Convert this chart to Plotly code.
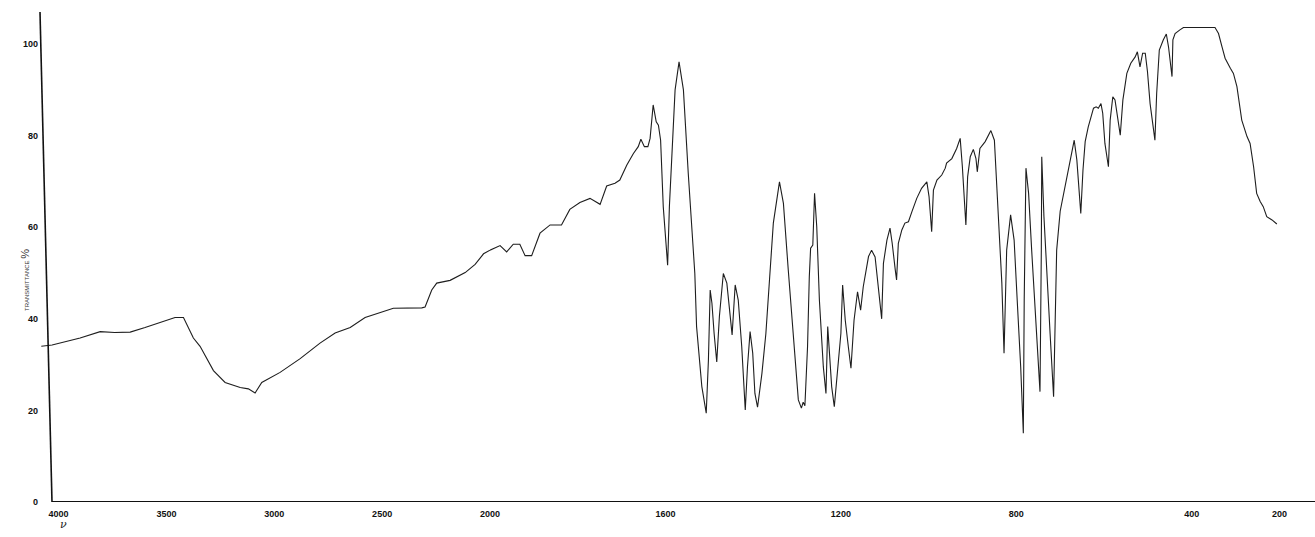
import plotly.graph_objects as go

# Wavenumber (cm-1) and transmittance (%)
wavenumber = [
    4080, 4030, 3900, 3807, 3740, 3668, 3599, 3529, 3460, 3421, 3375, 3344, 3282, 3228,
    3158, 3120, 3089, 3058, 2973, 2880, 2788, 2718, 2648, 2579, 2509, 2448, 2316, 2301,
    2270, 2247, 2185, 2115, 2069, 2030, 2000,
    1977, 1962, 1947, 1932, 1920, 1905, 1886, 1863, 1837, 1818, 1795, 1772, 1749, 1734,
    1715, 1704, 1688, 1673, 1662, 1656, 1648, 1640, 1635, 1628, 1621, 1616, 1611, 1605,
    1597, 1595, 1591, 1586, 1578, 1569, 1559, 1548, 1533, 1529, 1517, 1507, 1502, 1498,
    1494, 1489, 1483, 1477, 1468, 1460, 1453, 1448, 1441, 1434, 1426, 1418, 1413, 1407,
    1401, 1396, 1390, 1380, 1371, 1362, 1354, 1340, 1331, 1320, 1308, 1297, 1290, 1286,
    1282, 1276, 1272, 1269, 1264, 1260, 1255, 1249, 1240, 1234, 1230, 1225, 1221, 1215,
    1206, 1200, 1196, 1190, 1183, 1177, 1170, 1162, 1155, 1149, 1137, 1130, 1122, 1115,
    1107, 1103, 1095, 1088, 1083, 1076, 1073, 1069, 1061, 1054, 1046, 1038, 1027, 1016,
    1004, 999, 993, 989, 981, 970, 962, 959, 947, 936, 928, 923, 918, 915, 911, 905, 898,
    892, 889, 883, 871, 858, 850, 845, 839, 833, 828, 822, 813, 805, 798, 790, 784, 782,
    778, 772, 765, 757, 750, 746, 743, 742, 737, 730, 723, 715, 712, 708, 700, 689, 677,
    668, 662, 657, 653, 648, 643, 636, 624, 618, 613, 607, 603, 598, 590, 586, 580, 575,
    569, 563, 557, 548, 539, 529, 524, 518, 512, 506, 501, 495, 487, 484, 480, 474, 465,
    458, 453, 448, 445, 443, 438, 427, 419, 347, 339, 331, 324, 312, 305, 297, 286, 274,
    267, 259, 252, 244, 237, 229, 217, 206,
]
transmittance = [
    34.0, 34.3, 35.8, 37.2, 37.0, 37.1, 38.1, 39.2, 40.3, 40.3, 35.8, 34.0, 28.7, 26.1,
    25.0, 24.7, 23.8, 26.1, 28.3, 31.3, 34.7, 36.9, 38.1, 40.3, 41.4, 42.3, 42.4, 42.6,
    46.3, 47.8, 48.4, 50.1, 51.9, 54.2, 55.0,
    56.0, 54.6, 56.3, 56.3, 53.8, 53.8, 58.7, 60.5, 60.5, 63.9, 65.4, 66.3, 65.0, 69.0,
    69.6, 70.3, 73.6, 76.1, 77.6, 79.2, 77.6, 77.6, 79.4, 86.7, 83.0, 82.3, 79.0, 64.5,
    55.0, 51.7, 64.5, 75.4, 90.0, 96.1, 90.0, 71.8, 49.9, 38.3, 25.2, 19.4, 31.0, 46.3,
    43.4, 36.8, 30.6, 40.5, 49.9, 47.8, 41.9, 36.5, 47.4, 44.1, 33.9, 20.1, 29.5, 37.2,
    32.5, 23.7, 20.7, 28.1, 36.8, 50.7, 60.9, 69.9, 65.2, 50.7, 36.8, 22.3, 20.5, 21.8,
    21.0, 33.9, 49.2, 55.4, 56.1, 67.4, 60.1, 44.1, 29.5, 23.7, 38.3, 31.0, 25.2, 20.8,
    29.5, 36.8, 47.4, 39.7, 33.9, 29.2, 39.7, 45.9, 41.9, 47.0, 53.6, 55.0, 53.5, 47.0,
    40.0, 52.1, 57.2, 59.8, 56.5, 50.7, 48.5, 56.5, 59.4, 60.9, 61.2, 63.4, 66.3, 68.5,
    69.9, 66.7, 59.0, 68.1, 70.3, 71.4, 72.9, 74.0, 75.0, 77.2, 79.4, 73.2, 65.9, 60.5, 71.0, 75.4, 77.0,
    75.0, 72.1, 77.2, 78.7, 81.1, 79.0, 69.6, 58.7, 47.8, 32.5, 55.0, 62.7, 57.2, 44.1, 29.5, 15.0, 44.1,
    72.9, 67.4, 55.0, 41.2, 29.5, 24.1, 55.0, 75.4, 62.3, 47.8, 36.8, 23.0, 36.8, 55.0, 63.5, 68.8, 74.0,
    79.0, 74.7, 66.7, 63.0, 72.5, 78.7, 81.9, 86.0, 86.3, 86.0, 87.0, 84.9, 78.3, 73.2, 83.4, 88.5, 87.8,
    84.1, 80.1, 87.8, 93.6, 95.8, 97.2, 98.3, 95.0, 98.0, 98.0, 94.0, 87.0, 81.2, 79.0, 89.2, 98.7, 100.9,
    102.2, 99.4, 95.8, 92.9, 100.9, 102.3, 103.1, 103.6, 103.6, 102.3, 99.4, 96.9, 94.7, 93.6, 90.7, 83.4, 79.8,
    78.3, 73.2, 67.4, 65.6, 64.5, 62.3, 61.6, 60.7,
]

high_ticks = [4000, 3500, 3000, 2500]
low_ticks = [2000, 1600, 1200, 800, 400, 200]
y_ticks = [0, 20, 40, 60, 80, 100]

BREAK = 2000
hi_x = [w for w in wavenumber if w >= BREAK]
hi_y = [t for w, t in zip(wavenumber, transmittance) if w >= BREAK]
lo_x = [w for w in wavenumber if w <= BREAK]
lo_y = [t for w, t in zip(wavenumber, transmittance) if w <= BREAK]

W, H = 1315, 537
ML, MR, MT, MB = 40, 0, 12, 35
plot_w = W - ML - MR
split = 450 / plot_w

line_style = dict(color="#1e1e1e", width=1.1)
fig = go.Figure()
fig.add_trace(go.Scatter(x=hi_x, y=hi_y, mode="lines", line=line_style,
                         xaxis="x", yaxis="y", showlegend=False, hoverinfo="skip"))
fig.add_trace(go.Scatter(x=lo_x, y=lo_y, mode="lines", line=line_style,
                         xaxis="x2", yaxis="y", showlegend=False, hoverinfo="skip"))

tick_font = dict(family="Liberation Sans, Arial, sans-serif", size=9, color="#111",
                 weight="bold")
common_x = dict(showgrid=False, zeroline=False, showline=False, ticks="",
                tickfont=tick_font, ticklabelstandoff=5, fixedrange=True)

fig.update_layout(
    width=W, height=H,
    margin=dict(l=ML, r=MR, t=MT, b=MB, pad=0),
    paper_bgcolor="white", plot_bgcolor="white",
    xaxis=dict(domain=[0, split], range=[4086, 2000], tickvals=high_ticks,
               ticktext=[str(v) for v in high_ticks], anchor="y", **common_x),
    xaxis2=dict(domain=[split, 1], range=[2000, 119], tickvals=low_ticks,
                ticktext=[str(v) for v in low_ticks], anchor="y", **common_x),
    yaxis=dict(range=[0, 107], tickvals=y_ticks, ticktext=[str(v) for v in y_ticks],
               showgrid=False, zeroline=False, showline=False, ticks="",
               tickfont=tick_font, ticklabelstandoff=1, fixedrange=True),
    shapes=[
        # slightly tilted vertical axis line as on the chart recorder paper
        dict(type="line", xref="paper", yref="y", x0=0.0, y0=107, x1=12 / plot_w, y1=0,
             line=dict(color="#111", width=1.6)),
        # horizontal axis line
        dict(type="line", xref="paper", yref="y", x0=12 / plot_w, y0=0, x1=1, y1=0,
             line=dict(color="#111", width=2.2)),
    ],
    annotations=[
        dict(text="TRANSMITTANCE <span style='font-size:11px'>%</span>",
             xref="paper", yref="paper", x=(17 - ML) / plot_w, y=(502 - 280) / 490,
             textangle=-90, showarrow=False,
             font=dict(family="Liberation Sans, Arial, sans-serif", size=6, color="#333")),
        dict(text="<i>ν</i>", xref="paper", yref="paper", x=(58 - ML) / plot_w,
             y=(502 - 533) / 490, showarrow=False,
             font=dict(family="DejaVu Serif, serif", size=11, color="#222")),
    ],
)

fig.write_html("out.html")
